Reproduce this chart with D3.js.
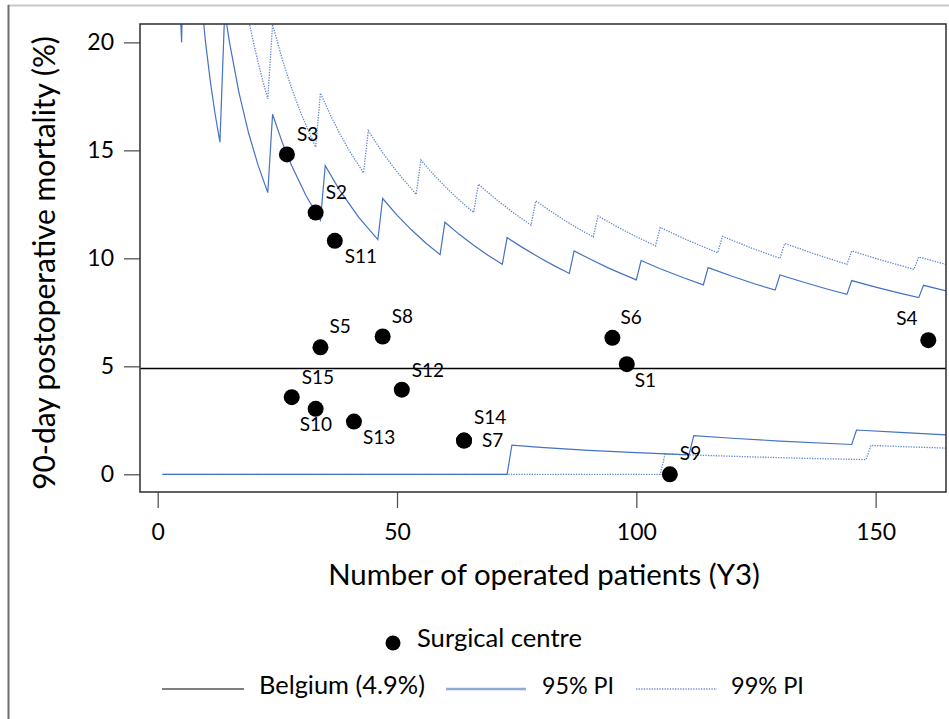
<!DOCTYPE html>
<html><head><meta charset="utf-8">
<script src="https://cdn.jsdelivr.net/npm/d3@7"></script>
<style>
body{margin:0;background:#fff}
svg{display:block;font-family:Lato,'Open Sans',sans-serif}
</style>
</head><body>
<svg id="chart" width="949" height="719"></svg>
<script>
// ---------- data ----------
const centres   = ["S1","S2","S3","S4","S5","S6","S7","S8","S9","S10","S11","S12","S13","S14","S15"];
const patients  = [98, 33, 27, 161, 34, 95, 64, 47, 107, 33, 37, 51, 41, 64, 28];
const mortality = [5.10,12.12,14.81,6.21,5.88,6.32,1.56,6.38,0.00,3.03,10.81,3.92,2.44,1.56,3.57];
const belgium = 4.9;
const xTicks = [0, 50, 100, 150];
const yTicks = [0, 5, 10, 15, 20];

// prediction limits: [number of patients, mortality %]
const upper95 = [[4,25.00],[5,20.00],[6,33.33],[8,25.00],[9,22.22],[10,20.00],[11,18.18],[12,16.67],[13,15.38],
 [14,21.43],[15,20.00],[17,17.65],[19,15.79],[21,14.29],[23,13.04],
 [24,16.67],[26,15.38],[28,14.29],[31,12.90],[34,11.76],
 [35,14.29],[38,13.16],[42,11.90],[46,10.87],
 [47,12.77],[50,12.00],[53,11.32],[56,10.71],[59,10.17],
 [60,11.67],[63,11.11],[66,10.61],[69,10.14],[72,9.72],
 [73,10.96],[76,10.53],[80,10.00],[83,9.64],[86,9.30],
 [87,10.34],[90,10.00],[94,9.57],[97,9.28],[100,9.00],
 [101,9.90],[105,9.52],[110,9.09],[114,8.77],
 [115,9.57],[120,9.17],[125,8.80],[129,8.53],
 [130,9.23],[135,8.89],[140,8.57],[144,8.33],
 [145,8.97],[150,8.67],[155,8.39],[159,8.18],
 [160,8.75],[165,8.48]];
const upper99 = [[18,22.22],[19,21.05],[20,20.00],[21,19.05],[22,18.18],[23,17.39],
 [24,20.83],[26,19.23],[28,17.86],[30,16.67],[33,15.15],
 [34,17.65],[36,16.67],[38,15.79],[40,15.00],[43,13.95],
 [44,15.91],[47,14.89],[50,14.00],[54,12.96],
 [55,14.55],[58,13.79],[61,13.11],[63,12.70],[66,12.12],
 [67,13.43],[70,12.86],[74,12.16],[78,11.54],
 [79,12.66],[82,12.20],[85,11.76],[88,11.36],[91,10.99],
 [92,11.96],[96,11.46],[100,11.00],[104,10.58],
 [105,11.43],[109,11.01],[113,10.62],[117,10.26],
 [118,11.02],[124,10.48],[130,10.00],
 [131,10.69],[137,10.22],[144,9.72],
 [145,10.34],[151,9.93],[158,9.49],
 [159,10.06],[165,9.70]];
const lower95 = [[1,0],[73,0],[74,1.35],[80,1.25],[90,1.11],[100,1.00],[111,0.90],
 [112,1.79],[120,1.67],[130,1.54],[145,1.38],[146,2.05],[155,1.94],[165,1.82]];
const lower99 = [[1,0],[105,0],[106,0.94],[115,0.87],[125,0.80],[135,0.74],[148,0.68],
 [149,1.34],[157,1.27],[165,1.21]];

// label placement (pixel offsets from dot centre)
const labelOffset = {S1:[8,23],S2:[10,-14],S3:[10,-13],S4:[-32,-15],S5:[9,-14],S6:[8,-14],
 S7:[18,6],S8:[9,-14],S9:[10,-14],S10:[-16,22],S11:[10,22],S12:[10,-13],S13:[9,22],S14:[10,-17],S15:[10,-13]};

// ---------- layout ----------
const svg = d3.select("#chart");
const L = 140, R = 946, T = 24, B = 492;
const x = d3.scaleLinear().domain([-3.7, 164.7]).range([L, R]);
const y = d3.scaleLinear().domain([-0.82, 20.85]).range([B, T]);
const FONT = 23;

// outer border
svg.append("line").attr("x1",8).attr("x2",949).attr("y1",5.5).attr("y2",5.5)
  .attr("stroke","#c8c8c8").attr("stroke-width",2);
svg.append("line").attr("x1",8.5).attr("x2",8.5).attr("y1",5).attr("y2",719)
  .attr("stroke","#6e6e6e").attr("stroke-width",2);

svg.append("clipPath").attr("id","plotclip").append("rect")
  .attr("x",L).attr("y",T).attr("width",R-L).attr("height",B-T);

// axes
const yAxis = svg.append("g").attr("transform",`translate(${L},0)`)
  .call(d3.axisLeft(y).tickValues(yTicks).tickSize(16).tickPadding(10));
const xAxis = svg.append("g").attr("transform",`translate(0,${B})`)
  .call(d3.axisBottom(x).tickValues(xTicks).tickSize(16).tickPadding(16));
[yAxis,xAxis].forEach(g=>{
  g.select(".domain").remove();
  g.selectAll(".tick line").attr("stroke","#555").attr("stroke-width",1.3);
  g.selectAll(".tick text").attr("fill","#000").style("font-size",FONT+"px").style("font-family","Lato");
});

const plot = svg.append("g").attr("clip-path","url(#plotclip)");
const line = d3.line().x(d=>x(d[0])).y(d=>y(d[1]));

// reference line
plot.append("line").attr("x1",L).attr("x2",R).attr("y1",y(belgium)).attr("y2",y(belgium))
  .attr("stroke","#000").attr("stroke-width",1.4);

// limits
[[upper99,true],[lower99,true],[upper95,false],[lower95,false]].forEach(([d,dotted])=>{
  plot.append("path").datum(d).attr("d",line).attr("fill","none")
    .attr("stroke", dotted ? "#5b86cf" : "#4472c4")
    .attr("stroke-width", dotted ? 1.3 : 1.2)
    .attr("stroke-dasharray", dotted ? "1.3,1.3" : null);
});

// frame
svg.append("rect").attr("x",L).attr("y",T).attr("width",R-L).attr("height",B-T)
  .attr("fill","none").attr("stroke","#3a3a3a").attr("stroke-width",1.6);

// points
const pts = centres.map((c,i)=>({c, n:patients[i], m:mortality[i]}));
svg.append("g").selectAll("circle").data(pts).join("circle")
  .attr("cx",d=>x(d.n)).attr("cy",d=>y(d.m)).attr("r",8).attr("fill","#000");
svg.append("g").selectAll("text").data(pts).join("text")
  .attr("x",d=>x(d.n)+labelOffset[d.c][0]).attr("y",d=>y(d.m)+labelOffset[d.c][1])
  .style("font-size","19px").text(d=>d.c);

// fit a text to a target width
function fit(sel, w){
  const len = sel.node().getComputedTextLength();
  const fs = parseFloat(sel.style("font-size"));
  sel.style("font-size", (fs*w/len)+"px");
  return sel;
}

// axis titles
const yt = svg.append("text").attr("transform","translate(55,263) rotate(-90)")
  .attr("text-anchor","middle").style("font-size","26px").text("90-day postoperative mortality (%)");
fit(yt,454);
const xt = svg.append("text").attr("x",544).attr("y",585).attr("text-anchor","middle")
  .style("font-size","26px").text("Number of operated patients (Y3)");
fit(xt,432);

// legend
const lg = svg.append("g");
lg.append("circle").attr("cx",393).attr("cy",643).attr("r",7.5).attr("fill","#000");
fit(lg.append("text").attr("x",417).attr("y",647).style("font-size","24px").text("Surgical centre"),165);
const ly = 689;
lg.append("line").attr("x1",162).attr("x2",244).attr("y1",ly).attr("y2",ly)
  .attr("stroke","#7f7f7f").attr("stroke-width",2);
fit(lg.append("text").attr("x",259).attr("y",ly+5).style("font-size","24px").text("Belgium (4.9%)"),166);
lg.append("line").attr("x1",446).attr("x2",526).attr("y1",ly).attr("y2",ly)
  .attr("stroke","#8eaadb").attr("stroke-width",2.5);
fit(lg.append("text").attr("x",542).attr("y",ly+5).style("font-size","24px").text("95% PI"),72);
lg.append("line").attr("x1",636).attr("x2",717).attr("y1",ly).attr("y2",ly)
  .attr("stroke","#8eaadb").attr("stroke-width",2).attr("stroke-dasharray","1.3,1.3");
fit(lg.append("text").attr("x",731).attr("y",ly+5).style("font-size","24px").text("99% PI"),73);
</script>
</body></html>
